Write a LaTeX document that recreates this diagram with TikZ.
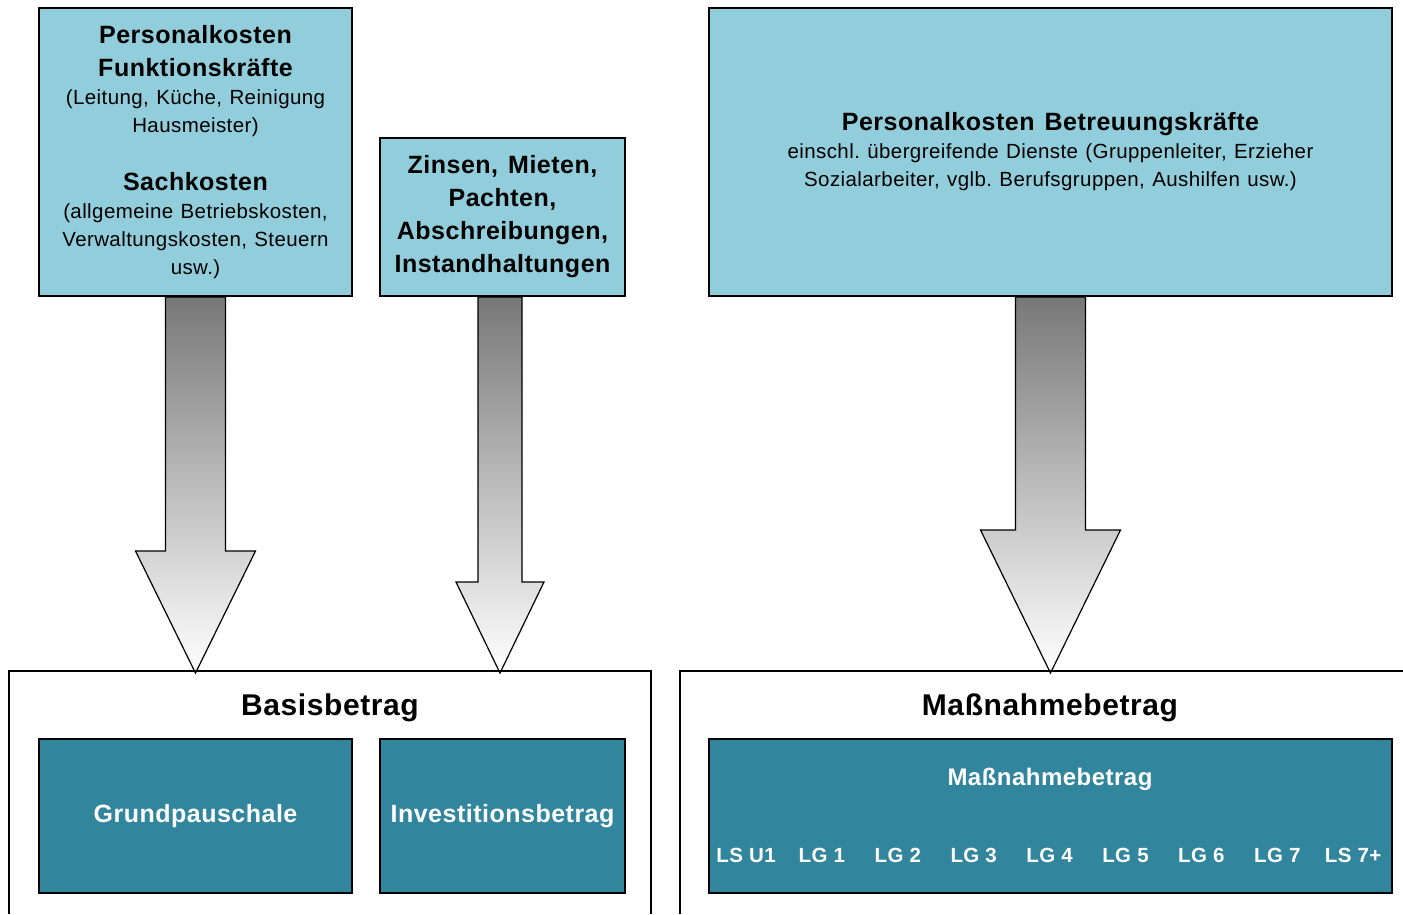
\documentclass[tikz,border=0pt]{standalone}
\usepackage{fontspec}
\setmainfont{Liberation Sans}[LetterSpace=2.0]
\usetikzlibrary{positioning,calc}
\definecolor{lightbox}{HTML}{92CDDC}
\definecolor{tealbox}{HTML}{31859C}
\newcommand{\headfont}{\fontsize{25}{33}\selectfont\bfseries\spaceskip=0.4em\xspaceskip=0.4em\relax}
\newcommand{\bodyfont}{\fontsize{20.5}{28}\selectfont\spaceskip=0.36em\xspaceskip=0.36em\relax}

\begin{document}
\begin{tikzpicture}[x=1pt, y=-1pt,
                    costbox/.style={draw=black, line width=2pt, fill=lightbox, inner sep=0pt, anchor=north west, align=center},
                    sumbox/.style={draw=black, line width=2pt, fill=tealbox, inner sep=0pt, anchor=north west, text=white, font=\fontsize{25}{30}\selectfont\bfseries},
                    flowarrow/.style={draw=black, line width=1.2pt, top color=black!53, bottom color=white},
                    frame/.style={line width=2pt},
                    title/.style={font=\fontsize{30}{36}\selectfont\bfseries},]
    \useasboundingbox (0,0) rectangle (1403,914);
    % cost boxes
    \node[costbox, minimum width=313, minimum height=288, text width=305] (fk) at (38,7)
        {{\headfont Personalkosten\\Funktionskräfte\par}
         {\bodyfont (Leitung, Küche, Reinigung\\Hausmeister)\par}
         \vspace{25pt}
         {\headfont Sachkosten\par}
         {\bodyfont (allgemeine Betriebskosten,\\Verwaltungskosten, Steuern\\usw.)\par}};
    \node[costbox, minimum width=245, minimum height=158, text width=240] (zm) at (379,137)
        {{\headfont Zinsen, Mieten,\\Pachten,\\Abschreibungen,\\Instandhaltungen\par}};
    \node[costbox, minimum width=683, minimum height=288, text width=670] (bk) at (708,7)
        {{\headfont Personalkosten Betreuungskräfte\par}
         {\bodyfont einschl. übergreifende Dienste (Gruppenleiter, Erzieher\\Sozialarbeiter, vglb. Berufsgruppen, Aushilfen usw.)\par}};
    % arrows
    \foreach \src/\dx/\sw/\hw/\hy in {fk/0/30/60/549, zm/-2.5/22/44/580, bk/0/35/70/528}
        \draw[flowarrow] ($(\src.south)+(\dx-\sw,0)$) -- ($(\src.south)+(\dx+\sw,0)$)
            -- ($(\src.south)+(\dx+\sw,\hy-295)$) -- ($(\src.south)+(\dx+\hw,\hy-295)$)
            -- ($(\src.south)+(\dx,376)$)
            -- ($(\src.south)+(\dx-\hw,\hy-295)$) -- ($(\src.south)+(\dx-\sw,\hy-295)$) -- cycle;
    % frames
    \draw[frame] (9,914) -- (9,671) -- (651,671) -- (651,914);
    \draw[frame] (680,914) -- (680,671) -- (1403,671);
    \node[title] (basis) at (330,708) {Basisbetrag};
    \node[title] (massnahme) at (1050,708) {Maßnahmebetrag};
    % result boxes
    \node[sumbox, minimum width=313, minimum height=154] (gp) at (38,738) {Grundpauschale\vphantom{g}};
    \node[sumbox, minimum width=245, minimum height=154] (ib) at (379,738) {Investitionsbetrag};
    \node[sumbox, minimum width=683, minimum height=154] (mb) at (708,738) {};
    \node[text=white, font=\fontsize{24}{28}\selectfont\bfseries] (mbtitle) at (1050,779) {Maßnahmebetrag};
    \foreach \lbl [count=\i from 0] in {LS U1, LG 1, LG 2, LG 3, LG 4, LG 5, LG 6, LG 7, LS 7+}
        \node[text=white, font=\fontsize{20.5}{24}\selectfont\bfseries] (lg\i) at (746+75.9*\i,855) {\lbl};
\end{tikzpicture}
\end{document}
